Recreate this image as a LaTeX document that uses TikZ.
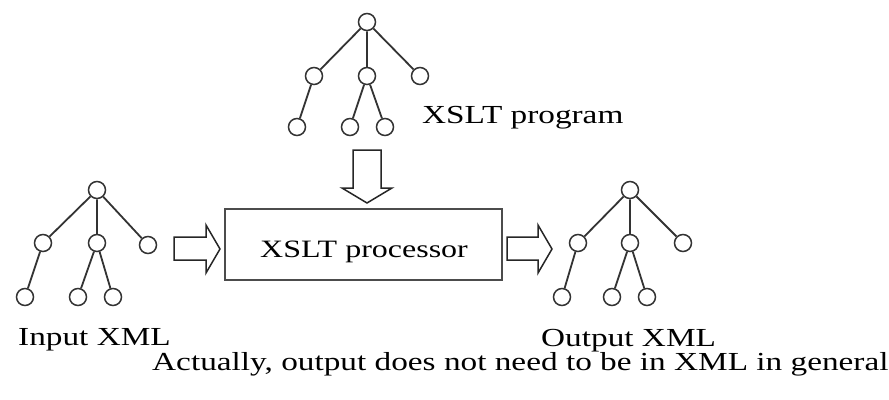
\documentclass[tikz,border=0pt]{standalone}
\usepackage{fontspec}
\setmainfont{Liberation Serif}[FakeStretch=1.28]
\begin{document}
\begin{tikzpicture}[x=1pt,y=-1pt,
  tn/.style={circle,draw=black!80,line width=1.5pt,minimum size=17pt,inner sep=0pt,fill=white},
  edge/.style={draw=black!80,line width=1.8pt},
  blockarrow/.style={draw=black!85,line width=1.5pt,fill=white,line join=miter},
  lbl/.style={anchor=base west,inner sep=0pt,font=\fontsize{26}{28}\selectfont}]
\useasboundingbox (0,0) rectangle (889,399);
\clip (0,0) rectangle (889,399);
% top tree
\node[tn] (tr) at (367,22) {};
\node[tn] (ta) at (314,76) {};
\node[tn] (tb) at (367,76) {};
\node[tn] (tc) at (420,76) {};
\node[tn] (td) at (297,127) {};
\node[tn] (te) at (350,127) {};
\node[tn] (tf) at (385,127) {};
\draw[edge] (tr)--(ta) (tr)--(tb) (tr)--(tc) (ta)--(td) (tb)--(te) (tb)--(tf);
% left tree
\node[tn] (lr) at (97,190) {};
\node[tn] (la) at (43,243) {};
\node[tn] (lb) at (97,243) {};
\node[tn] (lc) at (148,245) {};
\node[tn] (ld) at (25,297) {};
\node[tn] (le) at (78,297) {};
\node[tn] (lf) at (113,297) {};
\draw[edge] (lr)--(la) (lr)--(lb) (lr)--(lc) (la)--(ld) (lb)--(le) (lb)--(lf);
% right tree
\node[tn] (rr) at (630,190) {};
\node[tn] (ra) at (578,243) {};
\node[tn] (rb) at (630,243) {};
\node[tn] (rc) at (683,243) {};
\node[tn] (rd) at (562,297) {};
\node[tn] (re) at (612,297) {};
\node[tn] (rf) at (647,297) {};
\draw[edge] (rr)--(ra) (rr)--(rb) (rr)--(rc) (ra)--(rd) (rb)--(re) (rb)--(rf);
% processor box
\draw[draw=black!70,line width=2pt,fill=white] (225,209) rectangle (502,280);
\node[lbl,font=\fontsize{25}{27}\selectfont] (proc) at (260,257) {XSLT processor};
% block arrows
\draw[blockarrow] (353,150) -- (381,150) -- (381,188) -- (392,188) -- (367,203) -- (342,188) -- (353,188) -- cycle;
\draw[blockarrow] (174,237) -- (206,237) -- (206,225) -- (220,249) -- (206,273) -- (206,260) -- (174,260) -- cycle;
\draw[blockarrow] (507,237) -- (538,237) -- (538,225) -- (552,249) -- (538,273) -- (538,260) -- (507,260) -- cycle;
% labels
\node[lbl] (prog) at (422,123) {XSLT program};
\node[lbl] (inp) at (18,345) {Input XML};
\node[lbl] (outp) at (541,346) {Output XML};
\node[lbl] (note) at (152,370) {Actually, output does not need to be in XML in general};
\end{tikzpicture}
\end{document}
